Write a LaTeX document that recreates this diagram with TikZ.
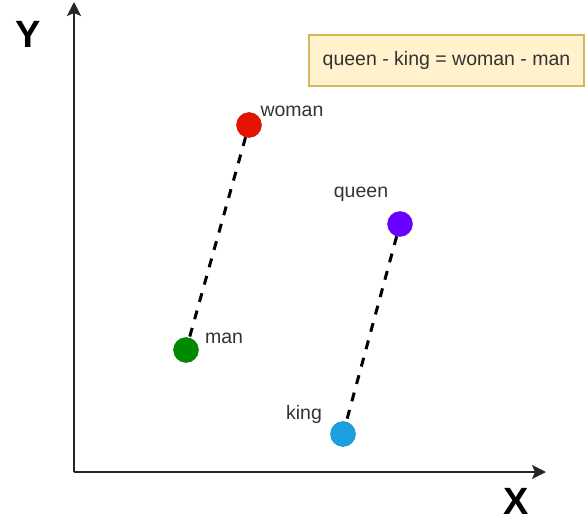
\documentclass[tikz,border=0pt]{standalone}
\usepackage{fontspec}
\setmainfont{Liberation Sans}
\usetikzlibrary{arrows.meta}
\definecolor{womanred}{HTML}{E51400}
\definecolor{mangreen}{HTML}{008A00}
\definecolor{queenviolet}{HTML}{6A00FF}
\definecolor{kingblue}{HTML}{1BA1E2}
\definecolor{notefill}{HTML}{FFF2CC}
\definecolor{noteline}{HTML}{D6B656}
\definecolor{labelgray}{HTML}{333333}
\begin{document}
\begin{tikzpicture}[x=1pt, y=-1pt,
                    dot/.style={circle, draw=#1!80!black, fill=#1, minimum size=25pt, inner sep=0pt},
                    word/.style={text=labelgray, font=\fontsize{19.5}{22}\selectfont, inner sep=0pt},
                    pair/.style={dash pattern=on 9pt off 9pt, line width=3pt},
                    axis/.style={-{Stealth[length=14pt,width=14pt,inset=3pt]}, line width=2pt, draw=black!85},
                    axisname/.style={font=\bfseries\fontsize{38}{42}\selectfont, inner sep=0pt}]
  \useasboundingbox (0,0) rectangle (587,524);
  % ašys
  \coordinate (origin) at (74,472);
  \coordinate (ytip) at (74,2);
  \coordinate (xtip) at (546,472);
  \draw[axis] (origin) -- (ytip);
  \draw[axis] (origin) -- (xtip);
  \node[axisname] (ylabel) at (28,34) {Y};
  \node[axisname] (xlabel) at (516,501) {X};
  % užrašas
  \node[draw=noteline, fill=notefill, line width=1.5pt, minimum width=275pt, minimum height=51pt,
        font=\fontsize{19.5}{22}\selectfont, text=labelgray] (note) at (446.5,60.5) {queen - king = woman - man};
  % taškai
  \node[dot=womanred] (woman) at (249,125) {};
  \node[dot=mangreen] (man) at (186,350) {};
  \node[dot=queenviolet] (queen) at (400,224) {};
  \node[dot=kingblue] (king) at (343,434) {};
  \node[word] (womanlabel) at (292,111) {woman};
  \node[word] (manlabel) at (224,338) {man};
  \node[word] (queenlabel) at (361,194) {queen};
  \node[word] (kinglabel) at (304,414) {king};
  % atstumai
  \draw[pair] (woman) -- (man);
  \draw[pair] (queen) -- (king);
\end{tikzpicture}
\end{document}
